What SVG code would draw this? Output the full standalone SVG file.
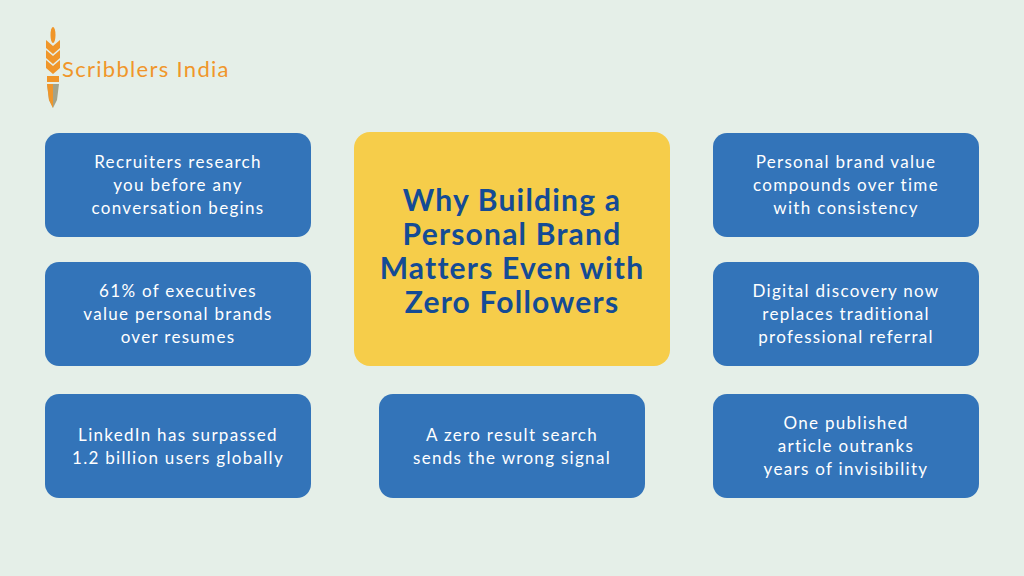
<svg xmlns="http://www.w3.org/2000/svg" width="1024" height="576" viewBox="0 0 1024 576">
<style>
.b{fill:#3374b9}
.t{fill:#fff;font-family:Lato,"Liberation Sans",sans-serif;font-size:17px;text-anchor:middle;letter-spacing:1.3px}
.h{fill:#144b95;font-family:Lato,"Liberation Sans",sans-serif;font-size:30px;font-weight:bold;text-anchor:middle;letter-spacing:1.2px}
.w{fill:#f0962a}
</style>
<rect width="1024" height="576" fill="#e5efe8"/>
<g id="logo">
<ellipse class="w" cx="53" cy="35" rx="2.5" ry="8"/>
<path class="w" d="M53 46 L46 40 L46 48 L53 54 Z M53 46 L60 40 L60 48 L53 54 Z"/>
<path class="w" d="M53 56 L46 50 L46 58 L53 64 Z M53 56 L60 50 L60 58 L53 64 Z"/>
<path class="w" d="M53 66 L46 60 L46 68 L53 74 Z M53 66 L60 60 L60 68 L53 74 Z"/>
<rect class="w" x="47" y="76" width="12" height="6"/>
<path d="M47 84 L59 84 L57 100 L53 108 L49 100 Z" fill="#a3a38a"/>
<path class="w" d="M47 84 L53 84 L53 108 L49 100 Z"/>
<text x="62" y="77" font-family="Lato,'Liberation Sans',sans-serif" font-size="22" letter-spacing="1.3" fill="#f0962a">Scribblers India</text>
</g>
<g id="n1"><rect class="b" x="45" y="133" width="266" height="104" rx="14"/><text class="t"><tspan x="178" y="168">Recruiters research</tspan><tspan x="178" y="191">you before any</tspan><tspan x="178" y="214">conversation begins</tspan></text></g>
<g id="n2"><rect class="b" x="45" y="262" width="266" height="104" rx="14"/><text class="t"><tspan x="178" y="297">61% of executives</tspan><tspan x="178" y="320">value personal brands</tspan><tspan x="178" y="343">over resumes</tspan></text></g>
<g id="n3"><rect class="b" x="45" y="394" width="266" height="104" rx="14"/><text class="t"><tspan x="178" y="441">LinkedIn has surpassed</tspan><tspan x="178" y="464">1.2 billion users globally</tspan></text></g>
<g id="center"><rect x="354" y="132" width="316" height="234" rx="16" fill="#f6cd4a"/><text class="h"><tspan x="512" y="211">Why Building a</tspan><tspan x="512" y="245">Personal Brand</tspan><tspan x="512" y="279">Matters Even with</tspan><tspan x="512" y="313">Zero Followers</tspan></text></g>
<g id="n4"><rect class="b" x="379" y="394" width="266" height="104" rx="14"/><text class="t"><tspan x="512" y="441">A zero result search</tspan><tspan x="512" y="464">sends the wrong signal</tspan></text></g>
<g id="n5"><rect class="b" x="713" y="133" width="266" height="104" rx="14"/><text class="t"><tspan x="846" y="168">Personal brand value</tspan><tspan x="846" y="191">compounds over time</tspan><tspan x="846" y="214">with consistency</tspan></text></g>
<g id="n6"><rect class="b" x="713" y="262" width="266" height="104" rx="14"/><text class="t"><tspan x="846" y="297">Digital discovery now</tspan><tspan x="846" y="320">replaces traditional</tspan><tspan x="846" y="343">professional referral</tspan></text></g>
<g id="n7"><rect class="b" x="713" y="394" width="266" height="104" rx="14"/><text class="t"><tspan x="846" y="429">One published</tspan><tspan x="846" y="452">article outranks</tspan><tspan x="846" y="475">years of invisibility</tspan></text></g>
<g id="connectors"/>
</svg>
